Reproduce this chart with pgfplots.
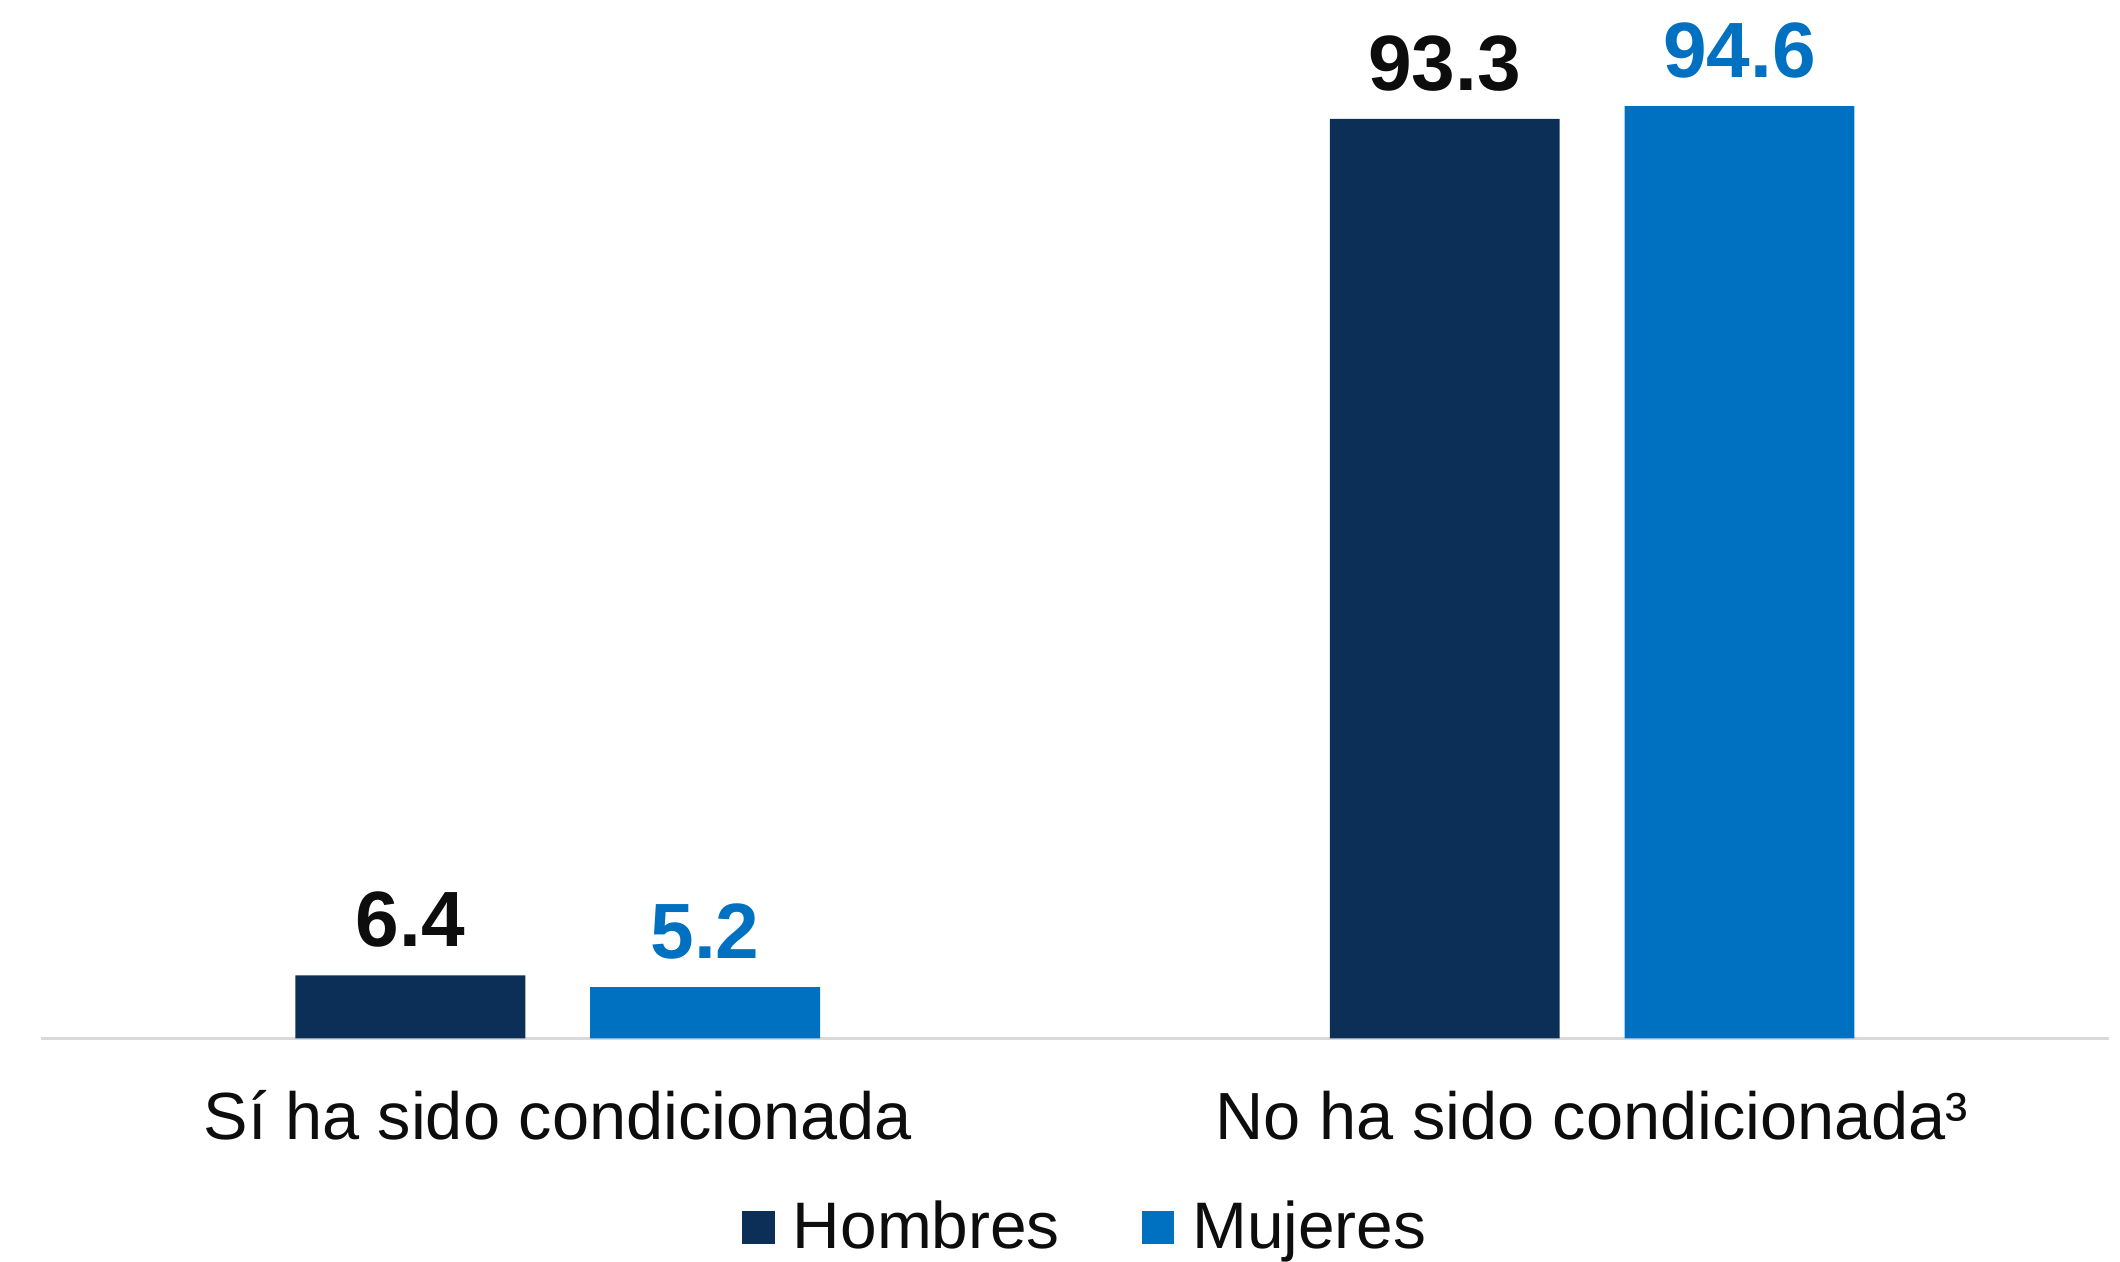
\documentclass[border=0pt]{standalone}
\usepackage{pgfplots}
\pgfplotsset{compat=1.18}
\usepackage{fontspec}
\setmainfont{Liberation Sans}
\definecolor{navy}{HTML}{0B2F57}
\definecolor{blu}{HTML}{0070C0}
\definecolor{txt}{HTML}{0D0D0D}
\definecolor{axgray}{HTML}{D9D9D9}
\begin{document}
\begin{tikzpicture}
\useasboundingbox (-9pt,-49.5pt) rectangle (461.4pt,230.4pt);
\begin{axis}[
  scale only axis,
  width=459pt, height=227.4pt,
  xmin=-0.5, xmax=1.5, ymin=0, ymax=104,
  ybar=14.4pt, bar width=51pt,
  axis x line*=bottom, axis y line=none,
  x axis line style={axgray, line width=0.6pt, -},
  xtick={0,1},
  xticklabels={Sí ha sido condicionada, No ha sido condicionada³},
  major tick length=0pt,
  xticklabel style={font=\fontsize{14.8}{17}\selectfont, text=txt, anchor=base, yshift=-22.5pt},
  ytick=\empty,
  nodes near coords,
  /pgf/number format/fixed,
  /pgf/number format/fixed zerofill,
  /pgf/number format/precision=1,
  /pgf/number format/assume math mode=true,
  every node near coord/.append style={font=\bfseries\fontsize{17.4}{20}\selectfont, anchor=base, inner sep=0pt, yshift=6.3pt},
  legend columns=2,
  legend style={at={(axis description cs:0.5068,0)}, anchor=center, yshift=-42pt, draw=none, fill=none,
    font=\fontsize{14.6}{17}\selectfont, text=txt,
    /tikz/every odd column/.append style={column sep=2pt},
    /tikz/every even column/.append style={column sep=16.2pt}},
  legend image code/.code={\fill[#1,draw=none] (0pt,-3.6pt) rectangle (7.2pt,3.6pt);},
]
\addplot[fill=navy, draw=none, every node near coord/.append style={text=txt}] coordinates {(0,6.4) (1,93.3)};
\addplot[fill=blu, draw=none, every node near coord/.append style={text=blu}] coordinates {(0,5.2) (1,94.6)};
\legend{Hombres, Mujeres}
\end{axis}
\end{tikzpicture}
\end{document}
